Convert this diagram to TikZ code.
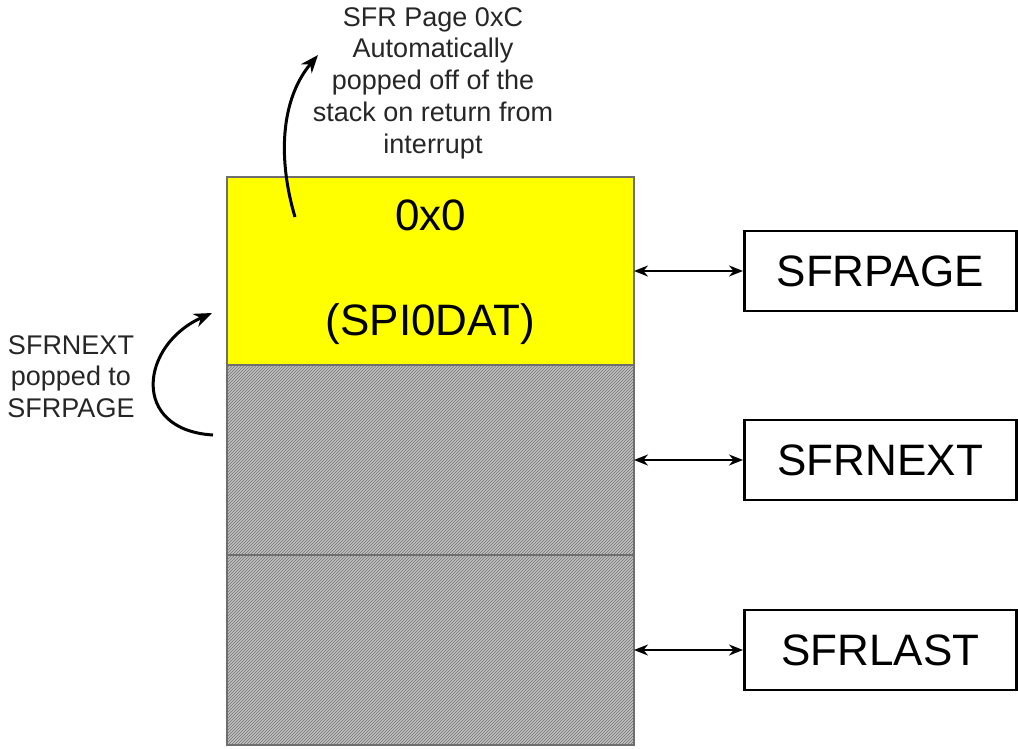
\documentclass[tikz,border=0pt]{standalone}
\usepackage{fontspec}
\setmainfont{Liberation Sans}
\usetikzlibrary{arrows.meta,positioning,patterns}
\definecolor{pageyellow}{RGB}{255,255,0}
\definecolor{hatchbg}{RGB}{192,192,192}
\definecolor{hatchfg}{RGB}{118,118,118}
\definecolor{stackedge}{RGB}{110,110,110}

\begin{document}
\begin{tikzpicture}[x=1pt, y=-1pt,
  sec/.style={draw=stackedge, line width=1.2pt, minimum width=407pt, minimum height=190pt, inner sep=0pt, outer sep=0pt},
  hatched/.style={sec, preaction={fill=hatchbg}, pattern=north east lines, pattern color=hatchfg},
  regbox/.style={draw, line width=2.5pt, minimum width=272pt, minimum height=80pt, inner sep=0pt, font=\fontsize{44}{52}\selectfont},
  bigtxt/.style={font=\fontsize{44}{52}\selectfont, inner sep=0pt},
  note/.style={font=\fontsize{27}{31.75}\selectfont, align=center, inner sep=0pt, text=black!85},
  link/.style={{Stealth[length=14pt,width=11pt]}-{Stealth[length=14pt,width=11pt]}, line width=2pt},
  popline/.style={-{Stealth[length=18pt,width=14pt]}, line width=3pt}]
\useasboundingbox (0,0) rectangle (1018,748);

% Stack of SFR pages
\node[sec, fill=pageyellow, minimum height=188pt] (yel) at (430.5,271) {};
\node[hatched, below=0pt of yel] (nxt) {};
\node[hatched, below=0pt of nxt] (lst) {};

% Page contents
\node[bigtxt, anchor=base] (val) at (430.5,230) {0x0};
\node[bigtxt, anchor=base] (reg) at (430.5,335) {(SPI0DAT)};

% Register boxes
\node[regbox, right=109pt of yel] (pagebox) {SFRPAGE};
\node[regbox, right=109pt of nxt] (nextbox) {SFRNEXT};
\node[regbox, right=109pt of lst] (lastbox) {SFRLAST};

% Links to the registers
\draw[link] (yel.east) -- (pagebox.west);
\draw[link] (nxt.east) -- (nextbox.west);
\draw[link] (lst.east) -- (lastbox.west);

% Notes
\node[note, anchor=north] (popnote) at (433,7) {SFR Page 0xC\\Automatically\\popped off of the\\stack on return from\\interrupt};
\node[note, anchor=north] (nextnote) at (71,335) {SFRNEXT\\popped to\\SFRPAGE};

% Pop arrows
\coordinate (popfrom) at (295,217);
\coordinate (popto) at (318,55);
\draw[popline] (popfrom) .. controls (278,160) and (280,100) .. (popto);
\coordinate (nextfrom) at (213,435);
\coordinate (nextto) at (212,313);
\draw[popline] (nextfrom) .. controls (130,430) and (140,345) .. (nextto);
\end{tikzpicture}
\end{document}
